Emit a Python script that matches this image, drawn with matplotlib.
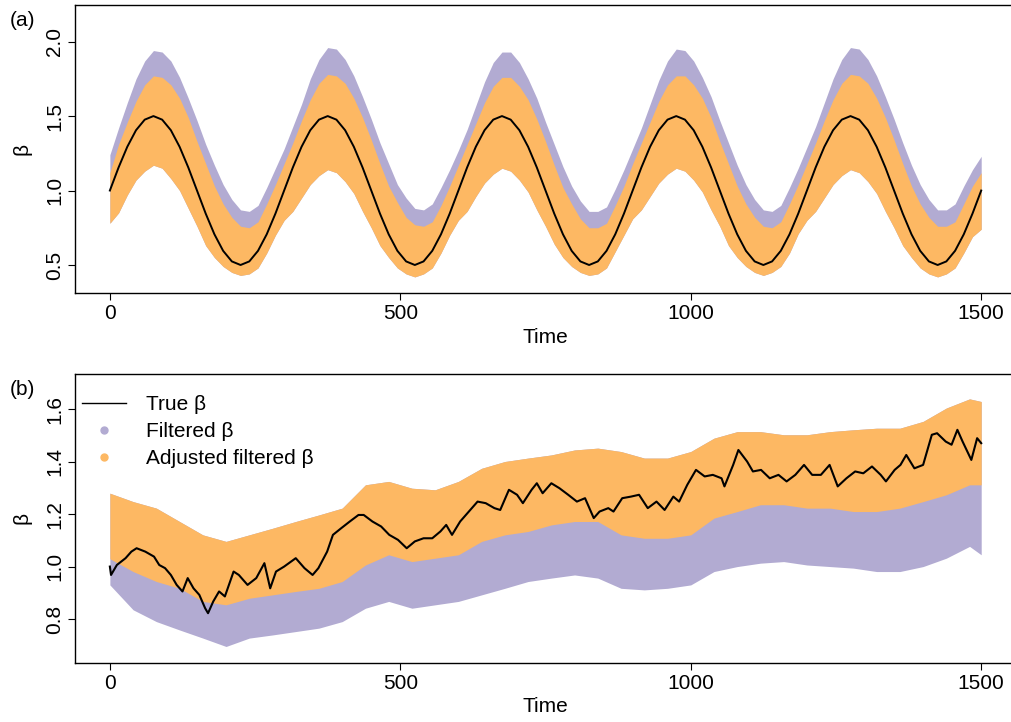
import matplotlib.pyplot as plt
from matplotlib.lines import Line2D

plt.rcParams['font.family'] = ['Liberation Sans', 'DejaVu Sans']

purple = '#B2ABD2'
orange = '#FDB863'

# (a) beta verdadero senoidal, y bordes de las nubes (misma rejilla de tiempo)
t_a = list(range(0, 1501, 15))
beta_a_true = [
    1.000, 1.155, 1.294, 1.405, 1.476, 1.500, 1.476, 1.405, 1.294, 1.155,
    1.000, 0.845, 0.706, 0.595, 0.524, 0.500, 0.524, 0.595, 0.706, 0.845,
    1.000, 1.155, 1.294, 1.405, 1.476, 1.500, 1.476, 1.405, 1.294, 1.155,
    1.000, 0.845, 0.706, 0.595, 0.524, 0.500, 0.524, 0.595, 0.706, 0.845,
    1.000, 1.155, 1.294, 1.405, 1.476, 1.500, 1.476, 1.405, 1.294, 1.155,
    1.000, 0.845, 0.706, 0.595, 0.524, 0.500, 0.524, 0.595, 0.706, 0.845,
    1.000, 1.155, 1.294, 1.405, 1.476, 1.500, 1.476, 1.405, 1.294, 1.155,
    1.000, 0.845, 0.706, 0.595, 0.524, 0.500, 0.524, 0.595, 0.706, 0.845,
    1.000, 1.155, 1.294, 1.405, 1.476, 1.500, 1.476, 1.405, 1.294, 1.155,
    1.000, 0.845, 0.706, 0.595, 0.524, 0.500, 0.524, 0.595, 0.706, 0.845,
    1.000,
]
filt_a_hi = [
    1.24, 1.42, 1.59, 1.75, 1.87, 1.94, 1.93, 1.87, 1.76, 1.62,
    1.47, 1.31, 1.17, 1.04, 0.94, 0.87, 0.86, 0.90, 1.02, 1.15,
    1.28, 1.43, 1.58, 1.75, 1.88, 1.96, 1.95, 1.88, 1.77, 1.63,
    1.48, 1.32, 1.18, 1.04, 0.95, 0.88, 0.87, 0.91, 1.02, 1.14,
    1.27, 1.41, 1.57, 1.73, 1.86, 1.93, 1.93, 1.86, 1.75, 1.62,
    1.46, 1.31, 1.16, 1.03, 0.93, 0.86, 0.86, 0.89, 1.01, 1.14,
    1.28, 1.42, 1.58, 1.74, 1.87, 1.95, 1.94, 1.87, 1.76, 1.63,
    1.47, 1.32, 1.17, 1.04, 0.94, 0.87, 0.86, 0.90, 1.02, 1.15,
    1.29, 1.43, 1.59, 1.75, 1.88, 1.96, 1.95, 1.88, 1.77, 1.63,
    1.48, 1.32, 1.17, 1.04, 0.94, 0.87, 0.87, 0.91, 1.03, 1.14,
    1.23,
]
adj_a_hi = [
    1.12, 1.31, 1.46, 1.60, 1.71, 1.77, 1.76, 1.71, 1.62, 1.49,
    1.33, 1.18, 1.03, 0.91, 0.82, 0.76, 0.75, 0.79, 0.91, 1.04,
    1.18, 1.32, 1.47, 1.61, 1.72, 1.78, 1.77, 1.72, 1.62, 1.49,
    1.34, 1.18, 1.03, 0.92, 0.82, 0.77, 0.76, 0.79, 0.90, 1.03,
    1.17, 1.31, 1.45, 1.59, 1.70, 1.76, 1.76, 1.70, 1.61, 1.48,
    1.33, 1.17, 1.02, 0.91, 0.81, 0.75, 0.75, 0.78, 0.90, 1.03,
    1.18, 1.32, 1.46, 1.60, 1.71, 1.77, 1.77, 1.71, 1.62, 1.49,
    1.33, 1.18, 1.03, 0.91, 0.82, 0.76, 0.75, 0.79, 0.91, 1.04,
    1.18, 1.32, 1.47, 1.61, 1.72, 1.78, 1.77, 1.72, 1.62, 1.49,
    1.34, 1.18, 1.03, 0.91, 0.82, 0.76, 0.76, 0.79, 0.91, 1.03,
    1.12,
]
adj_a_lo = [
    0.78, 0.85, 0.97, 1.07, 1.13, 1.17, 1.15, 1.08, 1.00, 0.88,
    0.76, 0.63, 0.55, 0.49, 0.45, 0.43, 0.44, 0.48, 0.58, 0.70,
    0.80, 0.86, 0.95, 1.04, 1.10, 1.14, 1.12, 1.06, 0.98, 0.86,
    0.75, 0.63, 0.55, 0.48, 0.44, 0.42, 0.44, 0.48, 0.58, 0.70,
    0.80, 0.86, 0.96, 1.05, 1.11, 1.15, 1.13, 1.07, 0.99, 0.87,
    0.76, 0.64, 0.55, 0.49, 0.45, 0.43, 0.44, 0.48, 0.59, 0.70,
    0.81, 0.87, 0.96, 1.05, 1.11, 1.15, 1.13, 1.07, 0.99, 0.87,
    0.76, 0.63, 0.55, 0.49, 0.45, 0.43, 0.45, 0.49, 0.58, 0.71,
    0.80, 0.86, 0.95, 1.04, 1.10, 1.14, 1.12, 1.06, 0.98, 0.86,
    0.75, 0.63, 0.55, 0.48, 0.44, 0.42, 0.44, 0.48, 0.58, 0.69,
    0.74,
]

# (b) beta verdadero tipo paseo aleatorio
t_b_line = [
    0, 2, 12, 27, 37, 46, 61, 76, 85, 95, 105, 115, 125, 134, 144, 154, 164,
    169, 178, 188, 198, 213, 222, 237, 252, 266, 276, 286, 300, 320, 335, 349,
    359, 374, 384, 398, 413, 428, 437, 452, 467, 481, 496, 511, 525, 540, 555,
    569, 579, 589, 603, 618, 633, 647, 662, 672, 687, 701, 711, 726, 735, 745,
    760, 774, 789, 804, 818, 833, 843, 858, 867, 882, 897, 911, 926, 941, 955,
    970, 980, 994, 1009, 1024, 1038, 1053, 1058, 1073, 1082, 1097, 1107, 1121,
    1136, 1151, 1165, 1180, 1195, 1209, 1224, 1239, 1253, 1268, 1283, 1297,
    1312, 1327, 1336, 1351, 1361, 1371, 1385, 1400, 1415, 1424, 1439, 1449,
    1459, 1468, 1483, 1493, 1500,
]
beta_b_true = [
    1.000, 0.968, 1.006, 1.032, 1.057, 1.070, 1.057, 1.038, 1.006, 0.994,
    0.968, 0.930, 0.905, 0.956, 0.917, 0.892, 0.841, 0.822, 0.867, 0.905,
    0.886, 0.981, 0.968, 0.930, 0.956, 1.013, 0.917, 0.981, 1.000, 1.032,
    0.994, 0.968, 0.994, 1.057, 1.121, 1.146, 1.172, 1.197, 1.197, 1.172,
    1.153, 1.121, 1.102, 1.070, 1.096, 1.108, 1.108, 1.134, 1.159, 1.121,
    1.172, 1.210, 1.248, 1.242, 1.223, 1.216, 1.293, 1.274, 1.242, 1.293,
    1.318, 1.280, 1.318, 1.299, 1.274, 1.248, 1.261, 1.185, 1.210, 1.223,
    1.210, 1.261, 1.267, 1.274, 1.223, 1.248, 1.216, 1.267, 1.248, 1.312,
    1.369, 1.344, 1.350, 1.337, 1.306, 1.388, 1.445, 1.401, 1.363, 1.369,
    1.337, 1.350, 1.325, 1.350, 1.388, 1.350, 1.350, 1.388, 1.306, 1.337,
    1.363, 1.356, 1.382, 1.350, 1.325, 1.369, 1.388, 1.426, 1.375, 1.388,
    1.503, 1.509, 1.477, 1.465, 1.522, 1.477, 1.407, 1.490, 1.471,
]

# bordes de las nubes en (b)
t_b_band = list(range(0, 1481, 40)) + [1500]
adj_b_hi = [
    1.28, 1.248, 1.223, 1.172, 1.121, 1.096, 1.121, 1.146, 1.172, 1.197,
    1.223, 1.312, 1.325, 1.299, 1.293, 1.325, 1.375, 1.401, 1.414, 1.426,
    1.445, 1.452, 1.439, 1.414, 1.414, 1.439, 1.490, 1.515, 1.515, 1.503,
    1.503, 1.515, 1.522, 1.528, 1.528, 1.554, 1.605, 1.640, 1.630,
]
adj_b_lo = [
    1.03, 0.981, 0.943, 0.917, 0.867, 0.854, 0.879, 0.892, 0.905, 0.917,
    0.943, 1.006, 1.045, 1.019, 1.032, 1.045, 1.096, 1.121, 1.134, 1.159,
    1.172, 1.172, 1.121, 1.108, 1.108, 1.121, 1.185, 1.210, 1.236, 1.236,
    1.223, 1.223, 1.210, 1.210, 1.223, 1.248, 1.274, 1.312, 1.312,
]
filt_b_lo = [
    0.93, 0.835, 0.790, 0.758, 0.727, 0.695, 0.727, 0.739, 0.752, 0.765,
    0.790, 0.841, 0.867, 0.841, 0.854, 0.867, 0.892, 0.917, 0.943, 0.956,
    0.968, 0.956, 0.917, 0.911, 0.917, 0.930, 0.981, 1.000, 1.013, 1.019,
    1.006, 1.000, 0.994, 0.981, 0.981, 1.000, 1.032, 1.077, 1.045,
]

x_ticks = [0, 500, 1000, 1500]
y_ticks_a = [0.5, 1.0, 1.5, 2.0]
y_ticks_b = [0.8, 1.0, 1.2, 1.4, 1.6]

fs = 15
fig = plt.figure(figsize=(10.11, 7.22), dpi=100)
ax1 = fig.add_axes([0.0742, 0.5942, 0.9308, 0.3989])
ax2 = fig.add_axes([0.0742, 0.0821, 0.9308, 0.3999])


def estilo(ax, yticks, ylim):
    ax.set_xlim(-60, 1560)
    ax.set_ylim(*ylim)
    ax.set_xticks(x_ticks)
    ax.set_xticklabels([str(v) for v in x_ticks])
    ax.set_yticks(yticks)
    ax.set_yticklabels(['%.1f' % v for v in yticks], rotation=90, va='center')
    ax.tick_params(direction='out', length=5, width=0.8, labelsize=fs, pad=3)
    for s in ax.spines.values():
        s.set_linewidth(1.0)
        s.set_color('black')
    ax.set_xlabel('Time', fontsize=fs)
    ax.set_ylabel('β', fontsize=fs)
    ax.xaxis.set_label_coords(0.5, -0.12)
    ax.yaxis.set_label_coords(-0.046, 0.5)


# panel (a): primero la nube filtrada, encima la ajustada
ax1.fill_between(t_a, adj_a_lo, filt_a_hi, color=purple, lw=0)
ax1.fill_between(t_a, adj_a_lo, adj_a_hi, color=orange, lw=0)
ax1.plot(t_a, beta_a_true, color='black', lw=1.4)
estilo(ax1, y_ticks_a, (0.312, 2.246))

# panel (b)
ax2.fill_between(t_b_band, filt_b_lo, adj_b_hi, color=purple, lw=0)
ax2.fill_between(t_b_band, adj_b_lo, adj_b_hi, color=orange, lw=0)
ax2.plot(t_b_line, beta_b_true, color='black', lw=1.5)
estilo(ax2, y_ticks_b, (0.633, 1.735))

handles = [
    Line2D([], [], color='black', lw=1.0),
    Line2D([], [], ls='none', marker='o', ms=5, color=purple),
    Line2D([], [], ls='none', marker='o', ms=5, color=orange),
]
ax2.legend(handles, ['True β', 'Filtered β', 'Adjusted filtered β'],
           loc='upper left', bbox_to_anchor=(0.0074, 0.927), frameon=False,
           fontsize=fs, handlelength=2.1, handletextpad=0.95,
           labelspacing=0.39, borderpad=0, borderaxespad=0)

fig.text(0.0099, 0.972, '(a)', fontsize=fs, va='center', ha='left')
fig.text(0.0099, 0.460, '(b)', fontsize=fs, va='center', ha='left')

fig.savefig('out.png', dpi=100)
